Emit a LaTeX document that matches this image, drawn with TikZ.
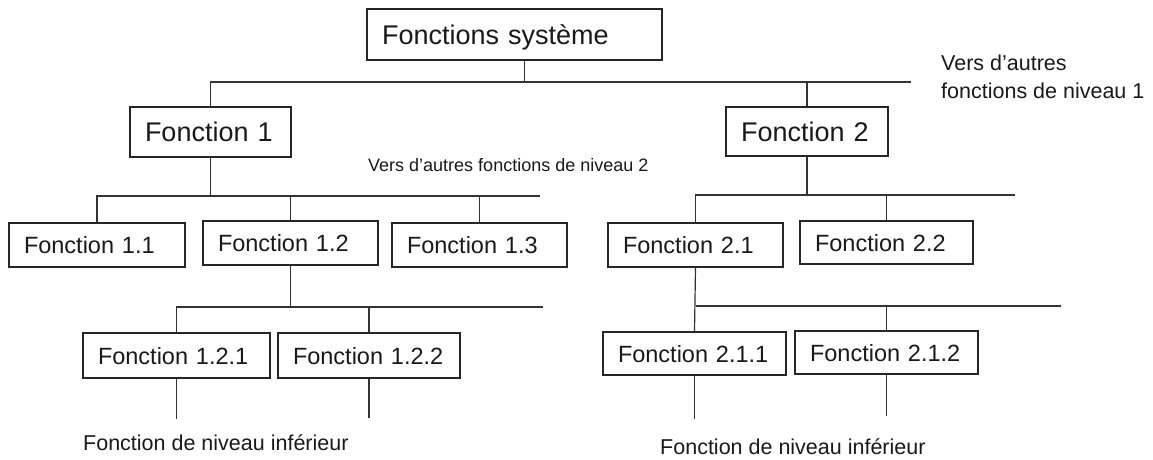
\documentclass[tikz,border=0pt]{standalone}
\usepackage{fontspec}
\setmainfont{Liberation Sans}
\begin{document}
\begin{tikzpicture}[x=1pt, y=-1pt,
  boite/.style={draw=black!85, line width=1.4pt, rectangle, inner xsep=15pt, inner ysep=0pt, align=left, text depth=0pt, text=black!90},
  grand/.style={boite, font=\fontsize{27}{32}\selectfont},
  petit/.style={boite, font=\fontsize{23.5}{28}\selectfont},
  lien/.style={draw=black!80, line width=1.2pt},
  note/.style={inner sep=0pt, anchor=west, align=left, text=black!90}]
\useasboundingbox (0,0) rectangle (1153,459);
% Niveau 0 et 1
\node[grand, text width=265pt, minimum height=51pt] (sys) at (514.5,34.5) {Fonctions système};
\node[grand, text width=131pt, minimum height=50pt] (f1) at (210.5,132) {Fonction 1};
\node[grand, text width=132pt, minimum height=49pt] (f2) at (807,131.5) {Fonction 2};
\coordinate (b0) at (911,82);
\draw[lien] (f1.north) |- (b0);
\draw[lien] ([xshift=10pt]sys.south) -- ([xshift=10pt]sys.south |- b0);
\draw[lien] (f2.north) -- (f2.north |- b0);
\node[note, font=\fontsize{21.5}{28}\selectfont] (n1) at (941,77) {Vers d'autres\\fonctions de niveau 1};
% Sous-fonctions de la fonction 1
\node[petit, text width=146pt, minimum height=44pt] (f11) at (97,245) {Fonction 1.1};
\node[petit, text width=145pt, minimum height=44pt] (f12) at (290.5,243) {Fonction 1.2};
\node[petit, text width=145pt, minimum height=44pt] (f13) at (479.5,245) {Fonction 1.3};
\coordinate (b1) at (540,196);
\draw[lien] (f11.north) |- (b1);
\draw[lien] (f1.south) -- (f1.south |- b1);
\draw[lien] (f12.north) -- (f12.north |- b1);
\draw[lien] (f13.north) -- (f13.north |- b1);
\node[note, font=\fontsize{18}{22}\selectfont] (n2) at (368,165) {Vers d'autres fonctions de niveau 2};
% Niveau 3 sous la fonction 1.2
\node[petit, text width=157pt, minimum height=45pt] (f121) at (176.5,355.5) {Fonction 1.2.1};
\node[petit, text width=152pt, minimum height=45pt] (f122) at (369,355.5) {Fonction 1.2.2};
\coordinate (b12) at (543,307);
\draw[lien] (f121.north) |- (b12);
\draw[lien] (f12.south) -- (f12.south |- b12);
\draw[lien] (f122.north) -- (f122.north |- b12);
\draw[lien] (f121.south) -- ++(0,40);
\draw[lien] (f122.south) -- ++(0,39);
\node[note, font=\fontsize{21.5}{26}\selectfont] (n3) at (83,443) {Fonction de niveau inférieur};
% Sous-fonctions de la fonction 2
\node[petit, text width=145pt, minimum height=44pt] (f21) at (695.5,245) {Fonction 2.1};
\node[petit, text width=143pt, minimum height=43pt] (f22) at (886.5,242.5) {Fonction 2.2};
\coordinate (b2) at (1015,195);
\draw[lien] (f21.north) |- (b2);
\draw[lien] (f2.south) -- (f2.south |- b2);
\draw[lien] (f22.north) -- (f22.north |- b2);
% Niveau 3 sous la fonction 2.1
\node[petit, text width=153pt, minimum height=43pt] (f211) at (694.5,353.5) {Fonction 2.1.1};
\node[petit, text width=153pt, minimum height=43pt] (f212) at (886.5,352.5) {Fonction 2.1.2};
\coordinate (b21) at (1061,306);
\draw[lien] (f21.south) -- (f211.north);
\draw[lien] (f21.south |- b21) -- (b21);
\draw[lien] (f212.north) -- (f212.north |- b21);
\draw[lien] (f211.south) -- ++(0,43);
\draw[lien] (f212.south) -- ++(0,41);
\node[note, font=\fontsize{21.5}{26}\selectfont] (n4) at (660,447) {Fonction de niveau inférieur};
\end{tikzpicture}
\end{document}
